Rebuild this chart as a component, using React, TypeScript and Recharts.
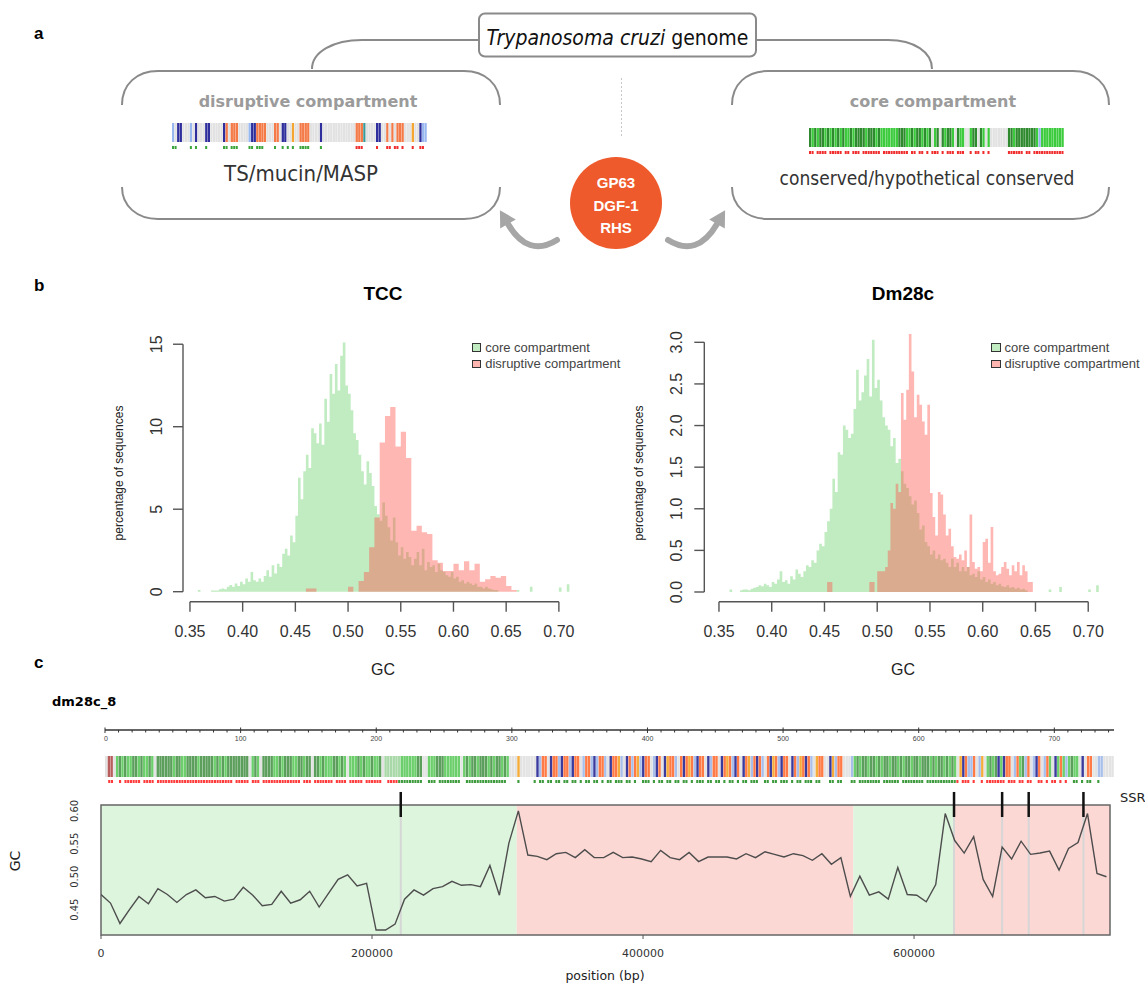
import React from 'react';
import {
  ComposedChart, BarChart, Bar, Cell, Area, Line, XAxis, YAxis,
  ReferenceLine, ReferenceArea, Legend,
} from 'recharts';

/* ---------------- fonts & colours ---------------- */
const FONT_ARIAL = "'Liberation Sans', Arial, sans-serif";
const FONT_DV = "'DejaVu Sans', sans-serif";
const FONT_DVC = "'DejaVu Sans Condensed', 'DejaVu Sans', sans-serif";
const FONT_NARROW = "'Liberation Sans Narrow', 'DejaVu Sans Condensed', sans-serif";

const CORE_FILL = '#c1ecc1';
const DISR_FILL = '#ff4c40';
const DISR_ALPHA = 0.4;
const CORE_SWATCH = '#c1ecc1';
const DISR_SWATCH = '#ffb5b0';

/* ---------------- panel b : histograms ---------------- */
const GC_START = 0.355;
const GC_BIN = 0.0025;
const GC_TICKS = [0.35, 0.4, 0.45, 0.5, 0.55, 0.6, 0.65, 0.7];

const tccCore = [
  0, 0.1, 0, 0, 0, 0, 0.08, 0.08, 0.08, 0.15,
  0.2, 0.15, 0.3, 0.4, 0.3, 0.5, 0.35, 0.6, 0.45, 0.8,
  0.6, 1.2, 0.7, 0.6, 0.8, 0.6, 0.95, 1.3, 0.9, 1.6,
  1.1, 1.7, 1.5, 2.3, 2.6, 2.2, 3.4, 3.0, 4.6, 6.9,
  5.6, 7.3, 8.3, 7.5, 9.9, 9.6, 9.0, 10.2, 8.9, 11.7,
  10.3, 13.2, 12.0, 13.8, 12.2, 14.3, 15.1, 12.5, 12.0, 11.0,
  9.6, 9.2, 8.3, 7.3, 6.5, 7.9, 7.2, 6.4, 5.2, 4.7,
  4.3, 5.4, 4.6, 3.9, 3.1, 4.5, 3.0, 2.2, 2.7, 2.0,
  2.4, 2.1, 1.6, 2.0, 2.4, 1.6, 2.6, 1.3, 1.8, 1.5,
  1.6, 1.2, 1.7, 1.3, 1.2, 1.0, 0.9, 1.2, 0.8, 0.9,
  0.6, 0.7, 0.5, 0.6, 0.5, 0.4, 0.5, 0.3, 0.3, 0.2,
  0.3, 0.2, 0.15, 0.1, 0.1, 0, 0, 0, 0, 0,
  0, 0, 0.1, 0, 0, 0, 0, 0.3, 0, 0,
  0, 0, 0, 0, 0, 0, 0, 0, 0.25, 0,
  0, 0.45, 0, 0,
];
// disruptive compartment, TCC: bins of 0.005 starting at 0.455
const TCC_DISR_START = 0.455;
const TCC_DISR_BIN = 0.005;
const tccDisruptive = [
  0, 0.2, 0.2, 0, 0, 0, 0, 0, 0, 0.3,
  0, 0.65, 1.2, 2.7, 4.5, 9.05, 10.65, 11.2, 8.8, 9.7,
  8.1, 3.7, 4.0, 3.6, 3.5, 1.9, 1.75, 1.25, 1.25, 1.7,
  1.3, 1.85, 1.3, 1.7, 0.6, 0.75, 0.95, 0.85, 0.95, 0.35,
  0.1,
];

const dmCore = [
  0, 0, 0.03, 0, 0, 0, 0.02, 0.03, 0.03, 0.02,
  0.04, 0.05, 0.06, 0.08, 0.07, 0.1, 0.08, 0.06, 0.12, 0.1,
  0.15, 0.25, 0.12, 0.14, 0.1, 0.19, 0.15, 0.27, 0.22, 0.18,
  0.25, 0.32, 0.3, 0.38, 0.35, 0.5, 0.58, 0.55, 0.72, 0.85,
  1.0, 1.36, 1.2, 1.68, 1.65, 2.0, 1.95, 1.85, 1.9, 2.2,
  2.67, 2.3, 2.4, 2.6, 2.8, 2.35, 3.03, 2.45, 2.55, 2.3,
  2.1, 2.0, 1.95, 1.75, 1.85, 1.55, 1.6, 1.45, 1.3, 1.25,
  1.15, 1.05, 1.1, 0.95, 0.75, 0.8, 0.6, 0.55, 0.45, 0.5,
  0.4, 0.45, 0.38, 0.4, 0.35, 0.3, 0.4, 0.3, 0.35, 0.25,
  0.3, 0.25, 0.3, 0.2, 0.22, 0.18, 0.25, 0.15, 0.18, 0.12,
  0.15, 0.1, 0.12, 0.08, 0.1, 0.07, 0.06, 0.08, 0.05, 0.06,
  0.04, 0.05, 0.03, 0.04, 0.02, 0, 0, 0, 0, 0,
  0, 0, 0, 0.03, 0, 0, 0, 0.06, 0, 0,
  0, 0, 0, 0, 0, 0, 0, 0, 0.03, 0,
  0, 0.08, 0, 0,
];
const dmDisruptive = [
  0, 0, 0, 0, 0, 0, 0, 0, 0, 0,
  0, 0, 0, 0, 0, 0, 0, 0, 0, 0,
  0, 0, 0, 0, 0, 0, 0, 0, 0, 0,
  0, 0, 0, 0, 0, 0, 0, 0, 0, 0.12,
  0.12, 0, 0, 0, 0, 0, 0, 0, 0, 0,
  0, 0, 0, 0, 0, 0.12, 0.12, 0, 0.25, 0.25,
  0.25, 0.3, 0.5, 1.07, 1.0, 1.3, 1.2, 2.39, 2.07, 2.43,
  3.1, 2.65, 2.1, 2.37, 2.25, 2.05, 1.89, 2.25, 1.19, 0.9,
  0.68, 1.2, 1.17, 0.93, 0.68, 0.76, 0.55, 0.42, 0.4, 0.45,
  0.38, 0.5, 0.3, 0.93, 0.36, 0.28, 0.3, 0.25, 0.6, 0.64,
  0.35, 0.78, 0.25, 0.2, 0.22, 0.3, 0.36, 0.28, 0.2, 0.32,
  0.25, 0.36, 0.2, 0.32, 0.25, 0.12, 0.12, 0, 0, 0,
  0, 0, 0, 0, 0, 0, 0, 0, 0, 0,
  0, 0, 0, 0, 0, 0, 0, 0, 0, 0,
  0, 0, 0, 0,
];

const LEGEND_ITEMS = [
  { name: 'core compartment', color: CORE_SWATCH },
  { name: 'disruptive compartment', color: DISR_SWATCH },
];

function buildHistRows(core: number[], disr: number[], disrStart: number, disrBin: number) {
  const rows: { x: number; core: number; disr: number }[] = [];
  for (let i = 0; i <= core.length; i++) {
    const x = Math.round((GC_START + i * GC_BIN) * 10000) / 10000;
    const j = Math.floor((x - disrStart) / disrBin + 1e-6);
    const inRange = i < core.length;
    rows.push({
      x,
      core: inRange ? core[i] : 0,
      disr: inRange && j >= 0 && j < disr.length ? disr[j] : 0,
    });
  }
  return rows;
}

const tccRows = buildHistRows(tccCore, tccDisruptive, TCC_DISR_START, TCC_DISR_BIN);
const dmRows = buildHistRows(dmCore, dmDisruptive, GC_START, GC_BIN);

/* ---------------- panel c : GC along dm28c_8 ---------------- */
const gcPositions = [
  0, 7000, 14000, 21000, 28000, 35000, 42000, 49000, 56000, 63000,
  70000, 77000, 84000, 91000, 98000, 105000, 112000, 119000, 126000, 133000,
  140000, 147000, 154000, 161000, 168000, 175000, 182000, 189000, 196000, 203000,
  210000, 217000, 224000, 231000, 238000, 245000, 252000, 259000, 266000, 273000,
  280000, 287000, 294000, 301000, 308000, 315000, 322000, 329000, 336000, 343000,
  350000, 357000, 364000, 371000, 378000, 385000, 392000, 399000, 406000, 413000,
  420000, 427000, 434000, 441000, 448000, 455000, 462000, 469000, 476000, 483000,
  490000, 497000, 504000, 511000, 518000, 525000, 532000, 539000, 546000, 553000,
  560000, 567000, 574000, 581000, 588000, 595000, 602000, 609000, 616000, 623000,
  630000, 637000, 644000, 651000, 658000, 665000, 672000, 679000, 686000, 693000,
  700000, 707000, 714000, 721000, 728000, 735000, 742000,
];
const gcValues = [
  0.473, 0.460, 0.429, 0.450, 0.470, 0.459, 0.482, 0.473, 0.461, 0.473,
  0.480, 0.468, 0.470, 0.463, 0.466, 0.484, 0.472, 0.456, 0.458, 0.478,
  0.460, 0.465, 0.478, 0.454, 0.475, 0.496, 0.503, 0.486, 0.490, 0.419,
  0.419, 0.428, 0.466, 0.480, 0.472, 0.482, 0.485, 0.493, 0.487, 0.488,
  0.485, 0.517, 0.472, 0.551, 0.600, 0.533, 0.531, 0.526, 0.535, 0.537,
  0.529, 0.541, 0.529, 0.529, 0.537, 0.529, 0.530, 0.527, 0.523, 0.540,
  0.529, 0.526, 0.537, 0.523, 0.530, 0.530, 0.530, 0.527, 0.535, 0.529,
  0.538, 0.534, 0.530, 0.535, 0.532, 0.525, 0.535, 0.519, 0.529, 0.470,
  0.501, 0.472, 0.477, 0.466, 0.514, 0.473, 0.472, 0.462, 0.488, 0.596,
  0.555, 0.536, 0.561, 0.496, 0.470, 0.545, 0.527, 0.554, 0.534, 0.536,
  0.539, 0.510, 0.543, 0.552, 0.596, 0.505, 0.500,
];
const gcRows = gcPositions.map((pos, i) => ({ pos, gc: gcValues[i] }));

const CHROM_LENGTH = 744600;
const compartments = [
  { start: 0, end: 306800, kind: 'core' },
  { start: 306800, end: 555200, kind: 'disruptive' },
  { start: 555200, end: 629300, kind: 'core' },
  { start: 629300, end: 744600, kind: 'disruptive' },
];
const ssrPositions = [221200, 629500, 665000, 684600, 725000];
const POS_TICKS = [0, 200000, 400000, 600000];
const GC_Y_TICKS = [0.45, 0.5, 0.55, 0.6];

// kb ruler ticks
const RULER_TICKS = [
  0, 10, 20, 30, 40, 50, 60, 70, 80, 90, 100, 110, 120, 130, 140, 150, 160, 170, 180, 190,
  200, 210, 220, 230, 240, 250, 260, 270, 280, 290, 300, 310, 320, 330, 340, 350, 360, 370, 380, 390,
  400, 410, 420, 430, 440, 450, 460, 470, 480, 490, 500, 510, 520, 530, 540, 550, 560, 570, 580, 590,
  600, 610, 620, 630, 640, 650, 660, 670, 680, 690, 700, 710, 720, 730, 740,
];

// gene track of dm28c_8, one character per 2 kb
// G dark green, g light green, p pale green, R red-brown, O orange, B dark blue, b light blue, Y yellow, . none
const dmTrack = [
  '.RR.gGgGgg', 'GGgGggGg.G', 'GGGGGgGGgg', 'GGGGgGGGGG', 'gGgGgGGGGG',
  'GGG.gGg.GG', 'GGggGgGGGg', 'gGGgGG.GGg', 'GgggGGgGg.', 'gggGgGggGg',
  'gG.ppppppg', 'gggggGG..g', 'ggGGGggggg', 'g.gGgGGgGG', 'GgGgGGgGg.',
  '..Y......B', 'bOO.BOObBO', 'ObBOO.bOOb', 'BbOOb.BOOY', 'b.BObOYbBO',
  'O.bBO.BYOO', 'b.OBOYObBO', 'O.BbOO.BOY', 'ObBO.BOYbO', 'BOb.OBYObB',
  'OO.BObYOBO', 'b.YOO..BYb', 'OO...bgGgG', 'GgGGgGgGGg', 'GGgGgGGgGG',
  'gGGGgGgGGg', 'GgGg.YBObb', 'O.bY.gGgGB', 'gBOO.bOgGb', 'O.bBO.bOg.',
  'BgOgbgGgg.', 'B.OO..bb..', '..',
].join('');
// strand marks under the track: r red, k green
const dmMarks = [
  '.rr..r.rrr', 'rrr.rrrr.r', 'rrrrrrrrrr', 'rrrrrrrrrr', 'rrrrrrr.rr',
  'rrr.rrr.rr', 'rrrrrrrrrr', 'rr.rrr.rrr', 'rrrr.rrrr.', 'rrrrr.rrrr',
  'rr..rrrrkk', 'kkkkkkk..k', 'kk.kkkkkkk', 'k..kkkkkkk', 'kkkkkkkk..',
  '..k.....k.', 'kk.kk.kk.k', 'k.kk.k.kk.', 'kk.k.kk.kk', 'k.kk.k..kk',
  'k.k.kk.kk.', 'kk.kk.k.kk', 'k.kk.kk.k.', 'kk.k.kk.kk', 'k..kk.kk.k',
  'kk.k.kk.kk', 'k.kk...kk.', 'kk...kk.kk', 'kkkkkk.kkk', 'kkk.kkkkkk',
  'kk.kkkkkkk', 'kkkkr.rrr.', 'r..r.rrrrr', 'rr.rrr.rr.', 'rr..rr.r.r',
  'r.r.r..kk.', 'k.kk..k...', '..',
].join('');

/* ---------------- panel a : schematic tracks ---------------- */
const disruptiveTrack = [
  'b.BB...b.B', '...BB.....', 'BO.OOO....', 'bBBOOOO...', 'OO.BB..Y..',
  'OOOO....B.', '..........', '..OOOt....', 'BB..O.O.OO', 'O...Y..Bbb',
].join('');
const disruptiveMarks = [
  'kk.....k.k', '...k......', 'kk.kkk....', 'kk.kkk....', 'k..k.k.k..',
  'kkkk....k.', '..........', '..rrr.....', 'r...rr.rr.', 'r...r..rr.',
].join('');
const coreTrack = [
  'GgGgGGgGgG', 'gGgGggGgGG', 'GGgGGGgGgg', 'gggggGGGgg', 'GgGGgGgG.g',
  'G.GgGGg.Gg', 'g..gGG.Gg.', 'g.......GG', 'gGGGGGGGGg', 'bggggggggg',
].join('');
const coreMarks = [
  'rr.rrrr.rr', 'rrr.rr.rrr', '.rrrrrrr.r', 'rrrrrrrrr.', 'rr.rr.r.rr',
  'r.r.rrr.rr', 'r..r.rr.r.', 'r.......rr', 'rrrr.rr.rr', 'rrrrrrrrrr',
].join('');

const PALETTE_A: Record<string, string> = {
  G: '#2f8a2f', g: '#3ccb3c', b: '#9ab8f0', B: '#2e2e9c', O: '#f47a48',
  Y: '#f4a630', t: '#3a9a9a', k: '#3ba53b', r: '#f02c2c', '.': '#e2e2e2',
};
const PALETTE_A_MARKS: Record<string, string> = { ...PALETTE_A, '.': 'transparent' };
const PALETTE_C: Record<string, string> = {
  G: '#5c9e5c', g: '#6ccf6c', p: '#a9d9a9', R: '#b85c5c', O: '#ff7a45',
  B: '#3b3b9e', b: '#a9bfeb', Y: '#f6ac3a', k: '#3d9a3d', r: '#ff3b3b', '.': '#e3e3e3',
};
const PALETTE_C_MARKS: Record<string, string> = { ...PALETTE_C, '.': 'transparent' };

/* ---------------- components ---------------- */
function Stripes(props: {
  codes: string; palette: Record<string, string>; left: number; top: number;
  width: number; height: number; fill?: number;
}) {
  const { codes, palette, left, top, width, height } = props;
  const data = codes.split('').map((c, i) => ({ i, c, v: 1 }));
  const band = width / data.length;
  const barSize = band * (props.fill ?? 1);
  return (
    <div style={{ position: 'absolute', left, top }}>
      <BarChart width={width} height={height} data={data}
        margin={{ top: 0, right: 0, bottom: 0, left: 0 }} barCategoryGap={0} barGap={0}>
        <XAxis dataKey="i" type="category" hide />
        <YAxis hide domain={[0, 1]} />
        <Bar dataKey="v" isAnimationActive={false} barSize={barSize}>
          {data.map((d) => (
            <Cell key={d.i} fill={palette[d.c] ?? 'transparent'} />
          ))}
        </Bar>
      </BarChart>
    </div>
  );
}

function makeRotTick(baseX: number, fontSize: number, fmt: (v: number) => string, family: string) {
  return (props: any) => {
    const y = props.y;
    return (
      <text x={baseX} y={y} transform={`rotate(-90 ${baseX} ${y})`} textAnchor="middle"
        fontSize={fontSize} fontFamily={family} fill="#333">
        {fmt(props.payload.value)}
      </text>
    );
  };
}

const HistLegend = () => (
  <div style={{ fontFamily: FONT_ARIAL, fontSize: 13, color: '#444', whiteSpace: 'nowrap' }}>
    {LEGEND_ITEMS.map((it) => (
      <div key={it.name} style={{ display: 'flex', alignItems: 'center', height: 16.6 }}>
        <span style={{
          display: 'inline-block', width: 9.5, height: 8.5, boxSizing: 'border-box',
          border: '1px solid #333', background: it.color, marginRight: 4,
        }} />
        <span>{it.name}</span>
      </div>
    ))}
  </div>
);

function Histogram(p: {
  left: number; top: number; width: number; height: number;
  margin: { top: number; right: number; bottom: number; left: number };
  rows: { x: number; core: number; disr: number }[];
  xDomain: [number, number]; yDomain: [number, number];
  yTicks: number[]; yMax: number; yFmt: (v: number) => string; legendLeft: number;
}) {
  return (
    <div style={{ position: 'absolute', left: p.left, top: p.top }}>
      <ComposedChart width={p.width} height={p.height} data={p.rows} margin={p.margin}>
        <XAxis dataKey="x" type="number" domain={p.xDomain} allowDataOverflow ticks={GC_TICKS}
          interval={0} tickFormatter={(v: number) => v.toFixed(2)} axisLine={false}
          tickLine={{ stroke: '#555', strokeWidth: 1.4 }} tickSize={10} tickMargin={14} height={40}
          tick={{ fontSize: 16, fill: '#333', fontFamily: FONT_ARIAL }} />
        <YAxis type="number" domain={p.yDomain} allowDataOverflow ticks={p.yTicks} interval={0}
          axisLine={false} tickLine={{ stroke: '#555', strokeWidth: 1.4 }} tickSize={10} width={60}
          tick={makeRotTick(61.7, 16, p.yFmt, FONT_ARIAL)} />
        <Area type="stepAfter" dataKey="core" name="core compartment" fill={CORE_FILL}
          fillOpacity={1} stroke="none" baseValue={0} isAnimationActive={false}
          dot={false} activeDot={false} />
        <Area type="stepAfter" dataKey="disr" name="disruptive compartment" fill={DISR_FILL}
          fillOpacity={DISR_ALPHA} stroke="none" baseValue={0} isAnimationActive={false}
          dot={false} activeDot={false} />
        <ReferenceLine segment={[{ x: 0.35, y: p.yDomain[0] }, { x: 0.7, y: p.yDomain[0] }]}
          stroke="#555" strokeWidth={1.4} ifOverflow="visible" />
        <ReferenceLine segment={[{ x: p.xDomain[0], y: 0 }, { x: p.xDomain[0], y: p.yMax }]}
          stroke="#555" strokeWidth={1.4} ifOverflow="visible" />
        <Legend layout="vertical" align="center" verticalAlign="middle"
          wrapperStyle={{ left: p.legendLeft, top: 59, width: 180 }}
          content={() => <HistLegend />} />
      </ComposedChart>
    </div>
  );
}

const RulerTick = (props: any) => {
  const v = props.payload.value as number;
  const x = props.x as number;
  const major = v % 100 === 0;
  return (
    <g>
      <line x1={x} x2={x} y1={major ? 27.5 : 30} y2={major ? 33 : 32.5} stroke="#333" strokeWidth={1} />
      {major && (
        <text x={v === 0 ? x + 1 : x} y={40.7} textAnchor="middle" fontSize={7}
          fontFamily={FONT_ARIAL} fill="#444">{v}</text>
      )}
    </g>
  );
};

function KbRuler() {
  const data = RULER_TICKS.map((k) => ({ k }));
  return (
    <div style={{ position: 'absolute', left: 0, top: 700 }}>
      <ComposedChart width={1145} height={50} data={data}
        margin={{ top: 20, right: 31, bottom: 0, left: 105 }}>
        <XAxis dataKey="k" type="number" domain={[0, 744]} allowDataOverflow ticks={RULER_TICKS}
          interval={0} height={20} tickLine={false} axisLine={{ stroke: '#333', strokeWidth: 1.5 }}
          tick={RulerTick} />
        <YAxis hide domain={[0, 744]} />
        <Line dataKey="k" stroke="none" dot={false} activeDot={false} isAnimationActive={false} />
      </ComposedChart>
    </div>
  );
}

function GcProfile() {
  const y0 = 0.4115;
  const y1 = 0.609;
  return (
    <div style={{ position: 'absolute', left: 0, top: 785 }}>
      <ComposedChart width={1145} height={199} data={gcRows}
        margin={{ top: 20, right: 35, bottom: 19, left: 41 }}>
        <XAxis dataKey="pos" type="number" domain={[0, CHROM_LENGTH]} allowDataOverflow
          ticks={POS_TICKS} interval={0} axisLine={false}
          tickLine={{ stroke: '#555', strokeWidth: 1 }} tickSize={4} tickMargin={10} height={30}
          tick={{ fontSize: 11, fill: '#333', fontFamily: FONT_DV }} />
        <YAxis type="number" domain={[y0, y1]} allowDataOverflow ticks={GC_Y_TICKS} interval={0}
          axisLine={false} tickLine={false} width={60}
          tick={makeRotTick(78.5, 11, (v) => v.toFixed(2), FONT_NARROW)} />
        {compartments.map((c) => (
          <ReferenceArea key={c.start} x1={c.start} x2={c.end} y1={y0} y2={y1}
            fill={c.kind === 'core' ? '#ddf4dd' : '#fcd8d4'} fillOpacity={1} stroke="none"
            ifOverflow="hidden" zIndex={-50} />
        ))}
        {ssrPositions.map((s) => (
          <ReferenceLine key={`g${s}`} x={s} stroke="#d6d6d6" strokeWidth={2} zIndex={-40} />
        ))}
        <Line dataKey="gc" type="linear" stroke="#4d4d4d" strokeWidth={1.4} dot={false}
          activeDot={false} isAnimationActive={false} />
        {ssrPositions.map((s) => (
          <ReferenceLine key={`b${s}`} segment={[{ x: s, y: 0.5908 }, { x: s, y: 0.6288 }]}
            stroke="#111" strokeWidth={2.5} ifOverflow="visible" />
        ))}
        <ReferenceArea x1={0} x2={CHROM_LENGTH} y1={y0} y2={y1} fill="none" fillOpacity={0}
          stroke="#666" strokeWidth={1.5} ifOverflow="visible" />
      </ComposedChart>
    </div>
  );
}

function Decorations() {
  const grey = '#8a8a8a';
  return (
    <svg width={1145} height={984} style={{ position: 'absolute', left: 0, top: 0 }}>
      {/* panel letters */}
      <text x={34} y={39} fontSize={17} fontWeight="bold" fontFamily={FONT_ARIAL}>a</text>
      <text x={34} y={291} fontSize={17} fontWeight="bold" fontFamily={FONT_ARIAL}>b</text>
      <text x={34} y={668} fontSize={17} fontWeight="bold" fontFamily={FONT_ARIAL}>c</text>

      {/* panel a */}
      <path d="M 479 40 L 362 40 C 333 40 312 52 312 69" fill="none" stroke={grey} strokeWidth={2} />
      <path d="M 756 40 L 888 40 C 914 40 932 52 932 69" fill="none" stroke={grey} strokeWidth={2} />
      <rect x={479} y={13.5} width={277} height={43} rx={6} fill="#fff" stroke={grey} strokeWidth={2} />
      <text x={617.5} y={45} textAnchor="middle" fontSize={21} fontFamily={FONT_DVC} fill="#111">
        <tspan fontStyle="italic">Trypanosoma cruzi</tspan> genome
      </text>

      <path d="M 122 105 C 122 84 137 71 158 71 L 464 71 C 485 71 500 84 500 105" fill="none" stroke={grey} strokeWidth={2} />
      <path d="M 122 187 C 122 206 137 219 158 219 L 464 219 C 485 219 500 206 500 187" fill="none" stroke={grey} strokeWidth={2} />
      <path d="M 732 105 C 732 84 747 71 768 71 L 1073 71 C 1094 71 1109 84 1109 105" fill="none" stroke={grey} strokeWidth={2} />
      <path d="M 732 187 C 732 206 747 219 768 219 L 1073 219 C 1094 219 1109 206 1109 187" fill="none" stroke={grey} strokeWidth={2} />

      <text x={308} y={106.5} textAnchor="middle" fontSize={16} fontWeight="bold" fill="#9b9b9b" fontFamily={FONT_DV}>disruptive compartment</text>
      <text x={933} y={106.5} textAnchor="middle" fontSize={16} fontWeight="bold" fill="#9b9b9b" fontFamily={FONT_DV}>core compartment</text>
      <text x={301} y={180.5} textAnchor="middle" fontSize={22} fill="#333" fontFamily={FONT_DVC}>TS/mucin/MASP</text>
      <text x={927} y={185} textAnchor="middle" fontSize={19} fill="#333" fontFamily={FONT_DVC}>conserved/hypothetical conserved</text>
      <line x1={621.5} y1={78} x2={621.5} y2={137} stroke="#c8c8c8" strokeDasharray="2 2" />

      <path d="M 557 240 Q 528 258 508 224" fill="none" stroke="#a6a6a6" strokeWidth={6} strokeLinecap="round" />
      <polygon points="499.9,210.2 515.8,219.4 500.2,228.6" fill="#a6a6a6" />
      <path d="M 668 240 Q 697 258 717 224" fill="none" stroke="#a6a6a6" strokeWidth={6} strokeLinecap="round" />
      <polygon points="725.1,210.2 709.2,219.4 724.8,228.6" fill="#a6a6a6" />

      <circle cx={616} cy={203} r={46} fill="#ee5a2c" />
      <text x={616} y={188.4} textAnchor="middle" fontSize={15} fontWeight="bold" fill="#fff" fontFamily={FONT_ARIAL}>GP63</text>
      <text x={616} y={210.6} textAnchor="middle" fontSize={15} fontWeight="bold" fill="#fff" fontFamily={FONT_ARIAL}>DGF-1</text>
      <text x={616} y={232.6} textAnchor="middle" fontSize={15} fontWeight="bold" fill="#fff" fontFamily={FONT_ARIAL}>RHS</text>

      {/* panel b labels */}
      <text x={383} y={300} textAnchor="middle" fontSize={19} fontWeight="bold" fontFamily={FONT_ARIAL}>TCC</text>
      <text x={903} y={300} textAnchor="middle" fontSize={19} fontWeight="bold" fontFamily={FONT_ARIAL}>Dm28c</text>
      <text x={383} y={675} textAnchor="middle" fontSize={16} fontFamily={FONT_ARIAL} fill="#222">GC</text>
      <text x={903} y={675} textAnchor="middle" fontSize={16} fontFamily={FONT_ARIAL} fill="#222">GC</text>
      <text transform="translate(123,473) rotate(-90)" textAnchor="middle" fontSize={12} fontFamily={FONT_ARIAL} fill="#222">percentage of sequences</text>
      <text transform="translate(642.5,473) rotate(-90)" textAnchor="middle" fontSize={12} fontFamily={FONT_ARIAL} fill="#222">percentage of sequences</text>

      {/* panel c labels */}
      <text x={52} y={706} fontSize={13} fontWeight="bold" fontFamily={FONT_DV}>dm28c_8</text>
      <text x={1120} y={802} fontSize={13} fontFamily={FONT_DV} fill="#222">SSR</text>
      <text transform="translate(20,861) rotate(-90)" textAnchor="middle" fontSize={14} fontFamily={FONT_DV} fill="#222">GC</text>
      <text x={605} y={980} textAnchor="middle" fontSize={12.5} fontFamily={FONT_DV} fill="#222">position (bp)</text>
    </svg>
  );
}

export default function App() {
  return (
    <div style={{
      position: 'absolute', left: 0, top: 0, width: 1145, height: 984,
      background: '#fff', overflow: 'hidden', fontFamily: FONT_ARIAL,
    }}>
      <Decorations />

      {/* panel a schematic tracks */}
      <Stripes codes={disruptiveTrack} palette={PALETTE_A} left={172} top={123} width={255} height={19} />
      <Stripes codes={disruptiveMarks} palette={PALETTE_A_MARKS} left={172} top={145.5} width={255} height={3} fill={0.8} />
      <Stripes codes={coreTrack} palette={PALETTE_A} left={809} top={128} width={255} height={19} />
      <Stripes codes={coreMarks} palette={PALETTE_A_MARKS} left={809} top={150.5} width={255} height={3} fill={0.8} />

      {/* panel b */}
      <Histogram left={100} top={280} width={490} height={400}
        margin={{ top: 54, right: 15, bottom: 38.3, left: 23 }}
        rows={tccRows} xDomain={[0.3434, 0.7153]} yDomain={[-0.606, 15.62]}
        yTicks={[0, 5, 10, 15]} yMax={15} yFmt={(v) => String(v)} legendLeft={371.7} />
      <Histogram left={620} top={280} width={505} height={400}
        margin={{ top: 50, right: 22, bottom: 38.3, left: 24.3 }}
        rows={dmRows} xDomain={[0.3361, 0.714]} yDomain={[-0.1166, 3.148]}
        yTicks={[0, 0.5, 1, 1.5, 2, 2.5, 3]} yMax={3} yFmt={(v) => v.toFixed(1)} legendLeft={371} />

      {/* panel c */}
      <KbRuler />
      <Stripes codes={dmTrack} palette={PALETTE_C} left={105} top={756} width={1009} height={21} />
      <Stripes codes={dmMarks} palette={PALETTE_C_MARKS} left={105} top={780} width={1009} height={3.3} fill={0.78} />
      <GcProfile />
    </div>
  );
}
